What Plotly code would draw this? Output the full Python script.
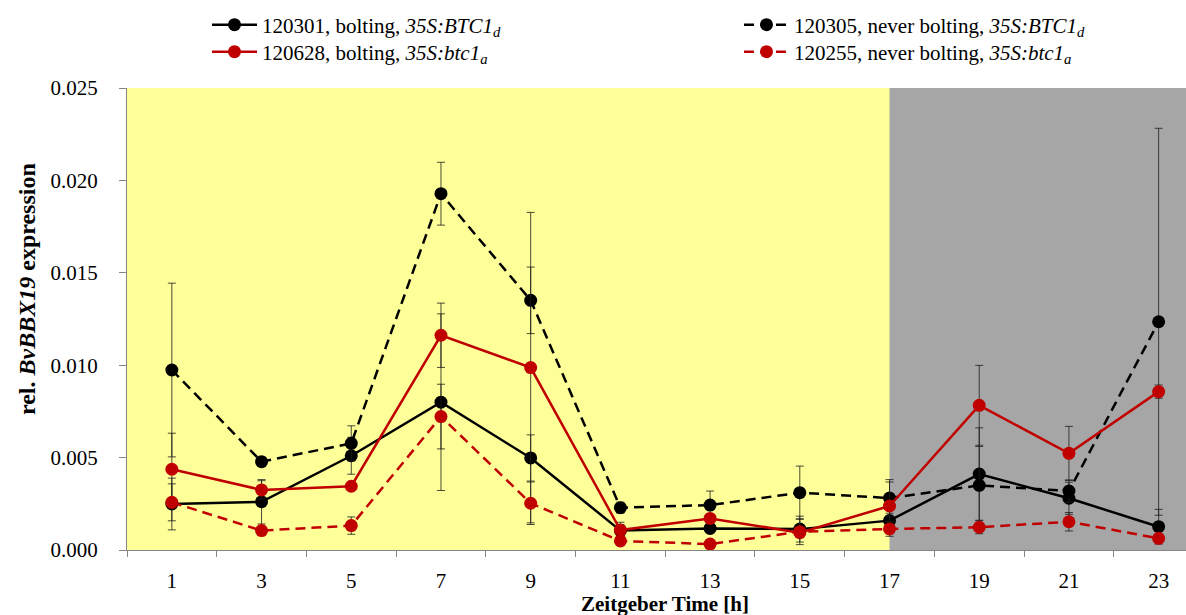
import plotly.graph_objects as go

# Zeitgeber time points (h)
zt = [1, 3, 5, 7, 9, 11, 13, 15, 17, 19, 21, 23]
zt_labels = [str(t) for t in zt]

# Light period ends / dark period begins (ZT, h)
dark_from_zt = 17

# rel. BvBBX19 expression, means and error per line
bolt_btc1d = [0.00249, 0.00261, 0.00510, 0.00800, 0.00498, 0.00105,
              0.00117, 0.00113, 0.00159, 0.00411, 0.00280, 0.00126]
bolt_btc1d_err = [0.00140, 0.00120, 0.00100, 0.00478, 0.00125, 0.00045,
                  0.00020, 0.00070, 0.00040, 0.00250, 0.00087, 0.00094]

never_btc1d = [0.00974, 0.00478, 0.00577, 0.01928, 0.01351, 0.00229,
               0.00243, 0.00310, 0.00281, 0.00350, 0.00319, 0.01235]
never_btc1d_err = [0.00470, 0.00010, 0.00095, 0.00170, 0.00180, 0.00030,
                   0.00076, 0.00144, 0.00100, 0.00210, 0.00060, 0.01047]

bolt_btc1a = [0.00437, 0.00325, 0.00345, 0.01162, 0.00987, 0.00108,
              0.00171, 0.00094, 0.00238, 0.00783, 0.00523, 0.00857]
bolt_btc1a_err = [0.00195, 0.00050, 0.00020, 0.00174, 0.00840, 0.00030,
                  0.00020, 0.00020, 0.00130, 0.00216, 0.00146, 0.00036]

never_btc1a = [0.00258, 0.00105, 0.00132, 0.00722, 0.00253, 0.00049,
               0.00032, 0.00099, 0.00114, 0.00123, 0.00153, 0.00063]
never_btc1a_err = [0.00100, 0.00020, 0.00047, 0.00175, 0.00115, 0.00020,
                   0.00010, 0.00070, 0.00040, 0.00035, 0.00050, 0.00020]

BLACK = "#000000"
RED = "#C00000"
FONT = "Liberation Serif"
X_RANGE = [0, 23.61]
ERR_COLOR = "rgba(30,30,30,0.8)"
W, H = 1186, 615
MARGIN = dict(l=127, r=0, t=88, b=65)
PLOT_H = H - MARGIN["t"] - MARGIN["b"]


def series(name, y, err, color, dash, legend):
    return go.Scatter(
        x=zt, y=y, name=name, mode="lines+markers", legend=legend,
        line=dict(color=color, width=2.5, dash=dash),
        marker=dict(color=color, size=13, symbol="circle"),
        error_y=dict(type="data", array=err, visible=True, color=ERR_COLOR,
                     thickness=1, width=4),
    )


def legend_box(left_px, mid_px):
    return dict(
        xref="container", yref="container",
        x=left_px / W, y=1 - mid_px / H, xanchor="left", yanchor="middle",
        font=dict(family=FONT, size=21), bgcolor="rgba(0,0,0,0)",
        itemwidth=45,
    )


fig = go.Figure()
fig.add_trace(series("120301, bolting, <i>35S:BTC1</i><sub><i>d</i></sub>",
                     bolt_btc1d, bolt_btc1d_err, BLACK, "solid", "legend"))
fig.add_trace(series("120305, never bolting, <i>35S:BTC1</i><sub><i>d</i></sub>",
                     never_btc1d, never_btc1d_err, BLACK, "10px,6px", "legend3"))
fig.add_trace(series("120628, bolting, <i>35S:btc1</i><sub><i>a</i></sub>",
                     bolt_btc1a, bolt_btc1a_err, RED, "solid", "legend2"))
fig.add_trace(series("120255, never bolting, <i>35S:btc1</i><sub><i>a</i></sub>",
                     never_btc1a, never_btc1a_err, RED, "10px,6px", "legend4"))

# dark period shading
fig.add_shape(type="rect", xref="x", yref="paper",
              x0=dark_from_zt, x1=X_RANGE[1], y0=0, y1=1,
              fillcolor="#A6A6A6", line=dict(width=0), layer="below")

fig.update_layout(
    width=W, height=H,
    margin=dict(**MARGIN, autoexpand=False),
    plot_bgcolor="#FFFF99", paper_bgcolor="white",
    font=dict(family=FONT, size=21, color="black"),
    showlegend=True,
    legend=legend_box(207, 25),
    legend2=legend_box(207, 52),
    legend3=legend_box(739, 25),
    legend4=legend_box(739, 52),
    xaxis=dict(
        range=X_RANGE, tickmode="array", tickvals=zt, ticktext=zt_labels,
        ticks="", showgrid=False, zeroline=False,
        showline=True, linecolor="#868686", linewidth=1,
        ticklabelstandoff=12,
        minor=dict(tickmode="array", tickvals=[t - 1 for t in zt],
                   ticks="outside", ticklen=6, tickcolor="#868686"),
    ),
    yaxis=dict(
        range=[0, 0.025], dtick=0.005, tickformat=".3f",
        ticks="outside", ticklen=7, tickcolor="#868686",
        showgrid=False, zeroline=False,
        showline=True, linecolor="#868686", linewidth=1,
        ticklabelstandoff=17,
    ),
)

# axis titles
fig.add_annotation(
    text="Zeitgeber Time [h]", xref="x", yref="paper",
    x=(zt[0] - 1 + zt[-1] + 1) / 2, y=0, yanchor="middle", yshift=-54,
    showarrow=False, font=dict(family=FONT, size=21, weight="bold"),
)
fig.add_annotation(
    text="rel. <i>BvBBX19</i> expression", textangle=-90,
    xref="paper", yref="paper", x=0, y=(H - MARGIN["b"] - 289) / PLOT_H,
    xanchor="center", yanchor="middle", xshift=27 - MARGIN["l"],
    showarrow=False, font=dict(family=FONT, size=24, weight="bold"),
)

fig.write_html("out.html")
